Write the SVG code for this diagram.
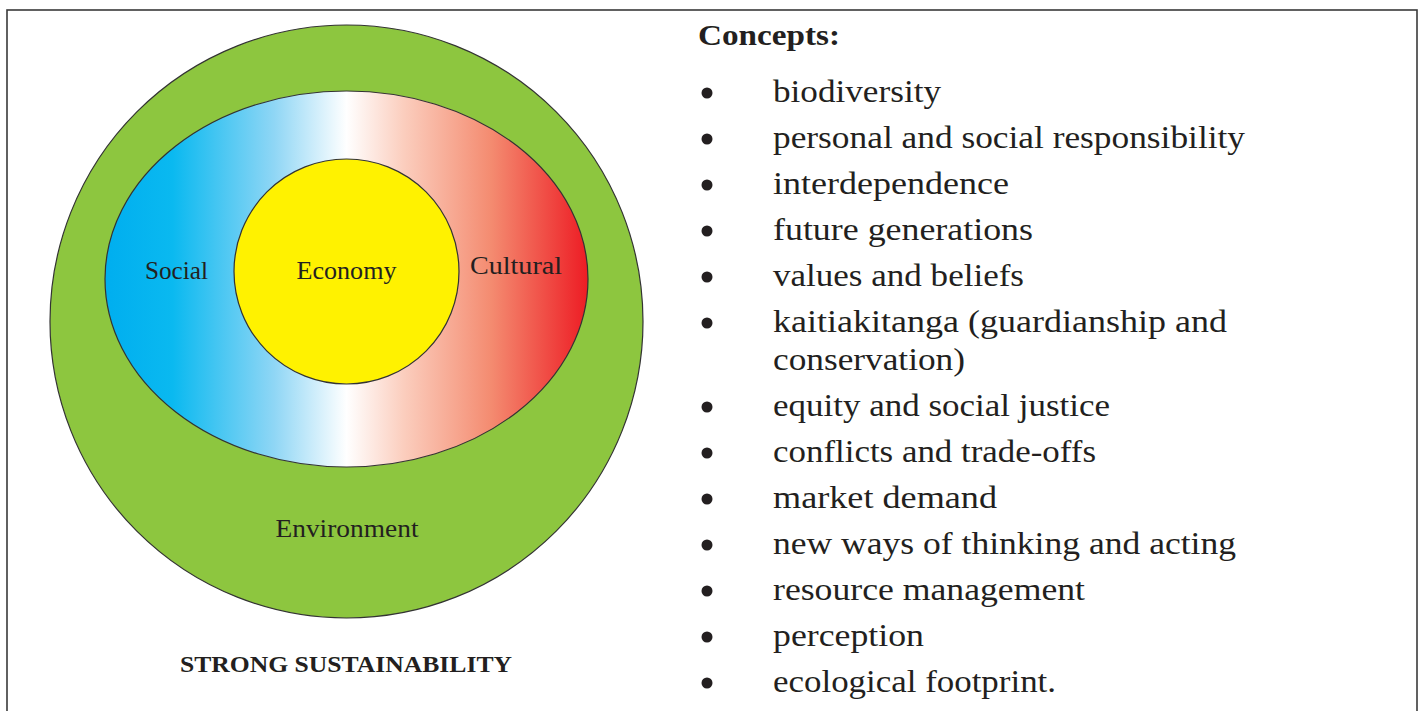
<svg xmlns="http://www.w3.org/2000/svg" width="1421" height="711" viewBox="0 0 1421 711">
  <style>
    .ring { stroke: #333333; stroke-width: 1.2; }
    .lbl { font-family: "Liberation Serif", "Times New Roman", serif; font-size: 25px; fill: #231f20; }
    .item { font-family: "Liberation Serif", "Times New Roman", serif; font-size: 32px; fill: #231f20; }
    .head { font-family: "Liberation Serif", "Times New Roman", serif; font-size: 29px; font-weight: bold; fill: #231f20; }
    .title { font-family: "Liberation Serif", "Times New Roman", serif; font-size: 23px; font-weight: bold; fill: #231f20; }
    .bullet { fill: #231f20; }
  </style>
  <defs>
    <linearGradient id="sc" gradientUnits="userSpaceOnUse" x1="105" y1="0" x2="588" y2="0">
      <stop offset="0" stop-color="#00aeef"/>
      <stop offset="0.14" stop-color="#0ab9f0"/>
      <stop offset="0.35" stop-color="#8fd6f5"/>
      <stop offset="0.5" stop-color="#ffffff"/>
      <stop offset="0.62" stop-color="#fbcdbd"/>
      <stop offset="0.8" stop-color="#f48b70"/>
      <stop offset="1" stop-color="#ed1c24"/>
    </linearGradient>
  </defs>
  <rect x="0" y="0" width="1421" height="711" fill="#ffffff"/>
  <rect id="frame" x="7" y="10" width="1410" height="720" fill="none" stroke="#3a3a3a" stroke-width="1.6"/>

  <g id="environment">
    <circle class="ring" cx="346.5" cy="321.5" r="296.5" fill="#8dc63f"/>
    <text class="lbl" x="347" y="537" text-anchor="middle" textLength="143" lengthAdjust="spacingAndGlyphs">Environment</text>
  </g>
  <g id="social-cultural">
    <ellipse class="ring" cx="346.5" cy="279" rx="241.5" ry="188" fill="url(#sc)"/>
    <text class="lbl" x="176.5" y="279" text-anchor="middle" textLength="63" lengthAdjust="spacingAndGlyphs">Social</text>
    <text class="lbl" x="516" y="274" text-anchor="middle" textLength="92" lengthAdjust="spacingAndGlyphs">Cultural</text>
  </g>
  <g id="economy">
    <circle class="ring" cx="346.5" cy="271.5" r="112.5" fill="#fff200"/>
    <text class="lbl" x="346.5" y="279" text-anchor="middle" textLength="100" lengthAdjust="spacingAndGlyphs">Economy</text>
  </g>
  <g id="caption">
    <text class="title" x="346" y="672" text-anchor="middle" textLength="332" lengthAdjust="spacingAndGlyphs">STRONG SUSTAINABILITY</text>
  </g>
  <g id="connectors"></g>

  <g id="concepts">
    <text class="head" x="698" y="45" textLength="142" lengthAdjust="spacingAndGlyphs">Concepts:</text>
    <g class="bullet">
      <circle cx="707" cy="93" r="5.5"/>
      <circle cx="707" cy="139" r="5.5"/>
      <circle cx="707" cy="185" r="5.5"/>
      <circle cx="707" cy="231" r="5.5"/>
      <circle cx="707" cy="277" r="5.5"/>
      <circle cx="707" cy="323" r="5.5"/>
      <circle cx="707" cy="407" r="5.5"/>
      <circle cx="707" cy="453" r="5.5"/>
      <circle cx="707" cy="499" r="5.5"/>
      <circle cx="707" cy="545" r="5.5"/>
      <circle cx="707" cy="591" r="5.5"/>
      <circle cx="707" cy="637" r="5.5"/>
      <circle cx="707" cy="683" r="5.5"/>
    </g>
    <text class="item" x="773" y="102" textLength="168" lengthAdjust="spacingAndGlyphs">biodiversity</text>
    <text class="item" x="773" y="148" textLength="472" lengthAdjust="spacingAndGlyphs">personal and social responsibility</text>
    <text class="item" x="773" y="194" textLength="236" lengthAdjust="spacingAndGlyphs">interdependence</text>
    <text class="item" x="773" y="240" textLength="260" lengthAdjust="spacingAndGlyphs">future generations</text>
    <text class="item" x="773" y="286" textLength="251" lengthAdjust="spacingAndGlyphs">values and beliefs</text>
    <text class="item" x="773" y="332" textLength="454" lengthAdjust="spacingAndGlyphs">kaitiakitanga (guardianship and</text>
    <text class="item" x="773" y="370" textLength="192" lengthAdjust="spacingAndGlyphs">conservation)</text>
    <text class="item" x="773" y="416" textLength="337" lengthAdjust="spacingAndGlyphs">equity and social justice</text>
    <text class="item" x="773" y="462" textLength="323" lengthAdjust="spacingAndGlyphs">conflicts and trade-offs</text>
    <text class="item" x="773" y="508" textLength="224" lengthAdjust="spacingAndGlyphs">market demand</text>
    <text class="item" x="773" y="554" textLength="463" lengthAdjust="spacingAndGlyphs">new ways of thinking and acting</text>
    <text class="item" x="773" y="600" textLength="312" lengthAdjust="spacingAndGlyphs">resource management</text>
    <text class="item" x="773" y="646" textLength="151" lengthAdjust="spacingAndGlyphs">perception</text>
    <text class="item" x="773" y="692" textLength="283" lengthAdjust="spacingAndGlyphs">ecological footprint.</text>
  </g>
</svg>
